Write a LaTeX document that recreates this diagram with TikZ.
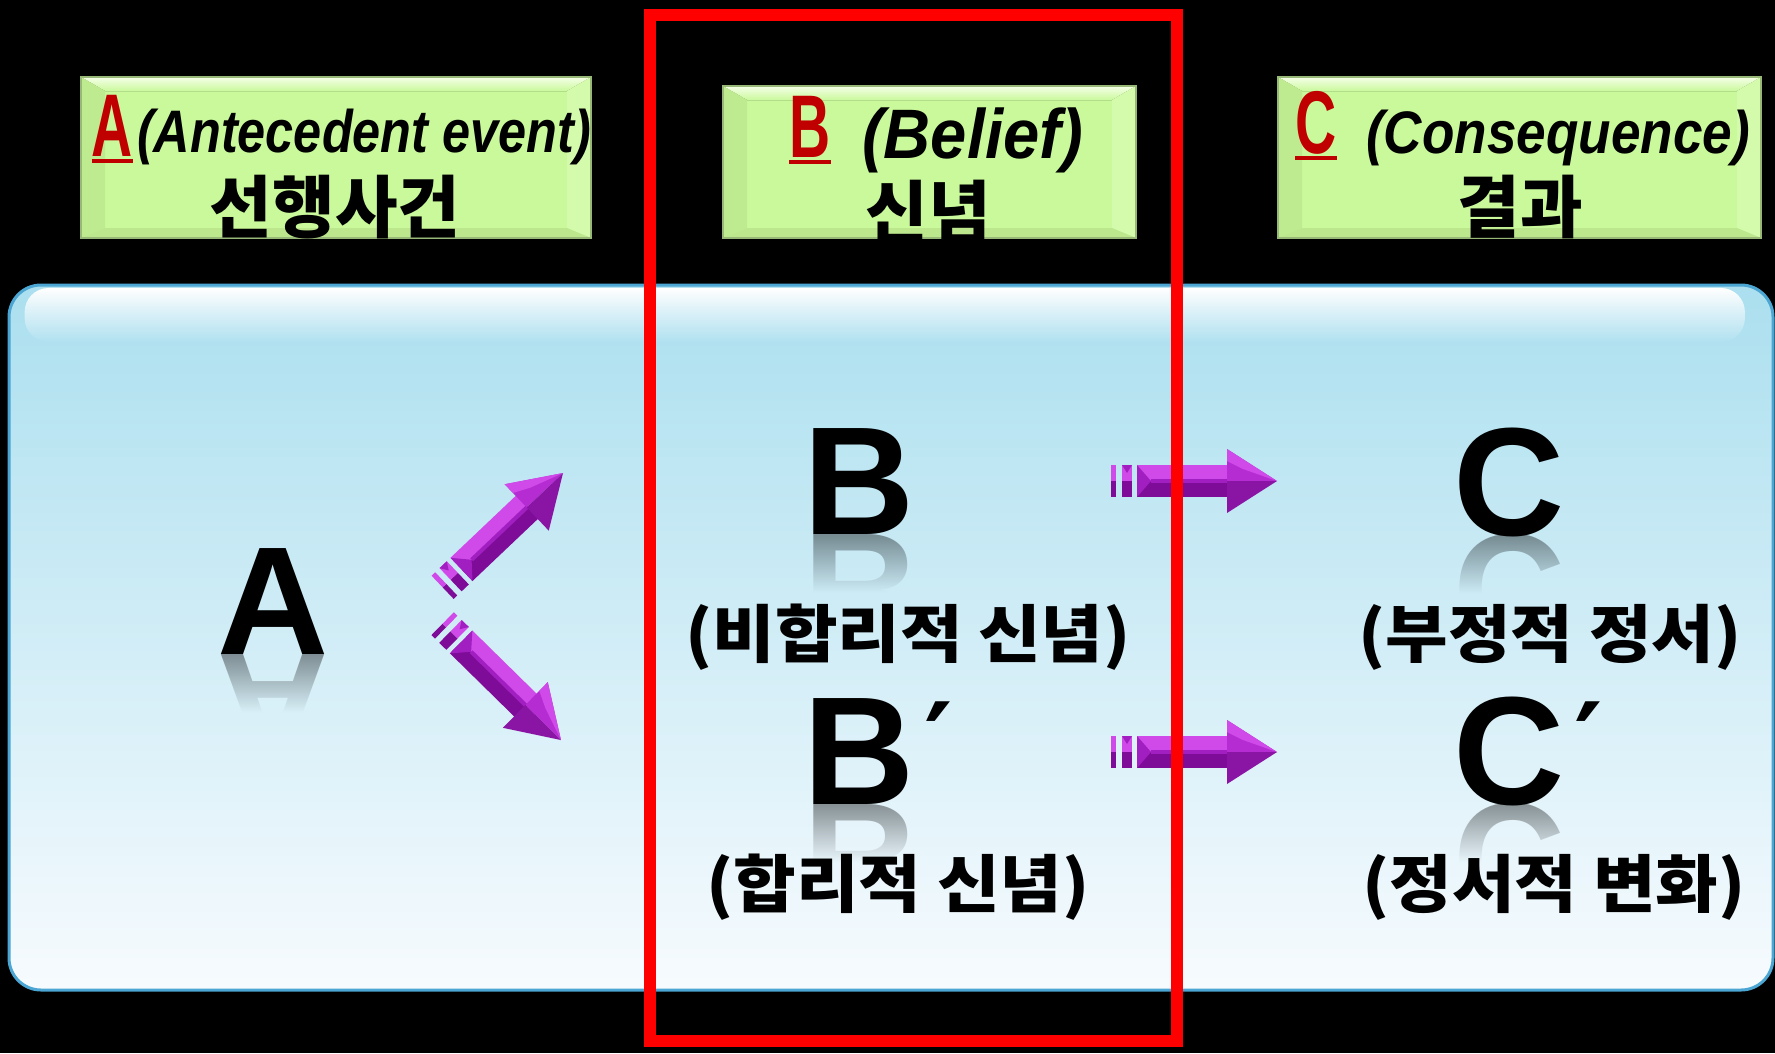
\documentclass[tikz,border=0pt]{standalone}
\usepackage{fontspec}
\usepackage{graphicx}
\usetikzlibrary{fadings}
\newfontfamily\kr{Noto Sans CJK KR}
\newfontfamily\lib{Liberation Sans}
\newfontfamily\libcond{Liberation Sans}[FakeStretch=0.64]
\newfontfamily\djv{DejaVu Sans}
\definecolor{hdrgreen}{HTML}{C9F99B}
\definecolor{hdrtop}{HTML}{F6FFE8}
\definecolor{hdrleft}{HTML}{BFEB90}
\definecolor{hdrright}{HTML}{D3FBAB}
\definecolor{hdrbottom}{HTML}{BCE78D}
\definecolor{hdredge}{HTML}{98B878}
\definecolor{hdrred}{HTML}{C00000}
\definecolor{panelTop}{HTML}{ABDFEF}
\definecolor{panelBot}{HTML}{F7FBFE}
\definecolor{panelEdge}{HTML}{4BA6D3}
\definecolor{arrLight}{HTML}{CF4AE8}
\definecolor{arrMid}{HTML}{A11FC0}
\definecolor{arrDark}{HTML}{7E0C98}
\definecolor{arrHeadUp}{HTML}{B52DD2}
\definecolor{arrHeadDn}{HTML}{8A15A5}
\definecolor{redframe}{HTML}{FF0000}
\tikzfading[name=fadedown, top color=transparent!0, bottom color=transparent!100]
\tikzfading[name=fadeup, top color=transparent!100, bottom color=transparent!0]

\newcommand\hdrbox[4]{%
  \fill[hdrgreen] (#1,#2) rectangle (#3,#4);
  \fill[top color=hdrtop, bottom color=hdrgreen] (#1,#2) -- (#3,#2) -- (#3-24,#2+14) -- (#1+24,#2+14) -- cycle;
  \fill[hdrleft] (#1,#2) -- (#1+24,#2+14) -- (#1+24,#4-10) -- (#1,#4) -- cycle;
  \fill[hdrright] (#3,#2) -- (#3-24,#2+14) -- (#3-24,#4-10) -- (#3,#4) -- cycle;
  \fill[hdrbottom] (#1,#4) -- (#1+24,#4-10) -- (#3-24,#4-10) -- (#3,#4) -- cycle;
  \draw[hdredge, line width=1.5] (#1,#2) rectangle (#3,#4);
}

% name, x, baseline, letter
\newcommand\reflectletter[4]{%
  \begin{scope}
    \clip (#2-90,#3) rectangle (#2+90,#3+58);
    \begin{scope}[shift={(#2,#3)}, yscale=-1]
      \node[transform shape, anchor=base, inner sep=0, text opacity=0.4, font=\lib\bfseries\fontsize{154}{154}\selectfont] (#1) at (0,0) {#4};
    \end{scope}
  \end{scope}
  \pgfmathsetmacro\rta{(#3-285)/7.05}%
  \pgfmathsetmacro\rtb{(#3+58-285)/7.05}%
  \shade[top color=panelBot!\rta!panelTop, bottom color=panelBot!\rtb!panelTop, path fading=fadeup] (#2-91,#3) rectangle (#2+91,#3+58);
}

\newcommand\primemark{\rlap{\kern10pt\raisebox{24pt}{\djv\bfseries\fontsize{108}{108}\selectfont ′}}}

\tikzset{
  bigletter/.style={anchor=base, inner sep=0, font=\lib\bfseries\fontsize{154}{154}\selectfont},
  krlabel/.style={inner sep=0, font=\kr\bfseries\fontsize{63}{63}\selectfont},
  krhead/.style={inner sep=0, font=\kr\bfseries\fontsize{68}{68}\selectfont},
  redletter/.style={anchor=base, inner sep=0, text=hdrred, font=\libcond\bfseries\fontsize{89}{89}\selectfont},
  engtitle/.style={anchor=base west, inner sep=0, font=\lib\bfseries\itshape\fontsize{60}{60}\selectfont},
  bigarrow/.pic={
    \fill[arrDark] (0,0) rectangle (5,16);
    \fill[arrLight] (0,-16) rectangle (5,0);
    \fill[arrDark] (11,0) rectangle (21,16);
    \fill[arrLight] (11,-16) rectangle (21,0);
    \fill[arrMid] (11,-16) -- (16,-8) -- (21,-16) -- cycle;
    \fill[arrDark] (26,0) rectangle (118,16);
    \fill[arrLight] (26,-16) rectangle (118,0);
    \fill[arrMid] (26,-16) -- (40,0) -- (26,16) -- cycle;
    \fill[arrMid] (40,-2) rectangle (118,2);
    \fill[arrHeadUp] (116,-32) -- (166,0) -- (116,0) -- cycle;
    \fill[arrHeadDn] (116,32) -- (166,0) -- (116,0) -- cycle;
    \fill[arrLight] (116,-32) -- (166,0) -- (132,-12) -- (116,-20) -- cycle;
  }
}

\begin{document}
\begin{tikzpicture}[x=1pt, y=-1pt]
\useasboundingbox (0,0) rectangle (1775,1053);
\fill[black] (0,0) rectangle (1775,1053);

% blue panel
\shade[top color=panelTop, bottom color=panelBot, rounded corners=32] (9,285) rectangle (1773,990);
\fill[white, path fading=fadedown, rounded corners=24] (27,288) rectangle (1752,342);
\draw[panelEdge, line width=3, rounded corners=32] (9,285) rectangle (1773,990);

% header boxes
\hdrbox{81}{77}{591}{238}
\hdrbox{723}{86}{1136}{238}
\hdrbox{1278}{77}{1761}{238}

% header texts
\node[redletter] (rA) at (112.5,156) {A};
\draw[hdrred, line width=4] ([yshift=-5pt]rA.base west) -- ([yshift=-5pt]rA.base east);
\node[engtitle] (tA) at (137,152) {\scalebox{0.84}[1]{(Antecedent event)}};
\node[krhead] (kA) at (335,207) {선행사건};

\node[redletter] (rB) at (810,157) {B};
\draw[hdrred, line width=4] ([yshift=-5pt]rB.base west) -- ([yshift=-5pt]rB.base east);
\node[engtitle, font=\lib\bfseries\itshape\fontsize{70}{70}\selectfont] (tB) at (862,158) {\scalebox{0.93}[1]{(Belief)}};
\node[krhead] (kB) at (928,212) {신념};

\node[redletter] (rC) at (1316,153) {C};
\draw[hdrred, line width=4] ([yshift=-5pt]rC.base west) -- ([yshift=-5pt]rC.base east);
\node[engtitle] (tC) at (1366,153) {\scalebox{0.885}[1]{(Consequence)}};
\node[krhead] (kC) at (1520,207) {결과};

% reflections
\reflectletter{rfA}{273}{654}{A}
\reflectletter{rfB}{859}{534}{B}
\reflectletter{rfC}{1509}{535}{C}
\reflectletter{rfBp}{859}{804}{B}
\reflectletter{rfCp}{1509}{804}{C}

% big letters
\node[bigletter] (A) at (273,654) {A};
\node[bigletter] (B) at (859,534) {B};
\node[bigletter] (C) at (1509,535) {C};
\node[bigletter] (Bp) at (859,804) {B\primemark};
\node[bigletter] (Cp) at (1509,804) {C\primemark};

% labels
\node[krlabel] (lB) at (908,637) {\scalebox{1.08}[1]{(비합리적 신념)}};
\node[krlabel] (lC) at (1550,637) {\scalebox{1.08}[1]{(부정적 정서)}};
\node[krlabel] (lBp) at (898,887) {\scalebox{1.08}[1]{(합리적 신념)}};
\node[krlabel] (lCp) at (1554,887) {\scalebox{1.08}[1]{(정서적 변화)}};

% arrows
\coordinate (upTail) at (442.6,587.3);
\coordinate (dnTail) at (442.6,623.7);
\coordinate (h1Tail) at (1111,481);
\coordinate (h2Tail) at (1111,752);
\pic[rotate=43.5] at (upTail) {bigarrow};
\pic[rotate=-44.5] at (dnTail) {bigarrow};
\pic at (h1Tail) {bigarrow};
\pic at (h2Tail) {bigarrow};

% red frame
\draw[redframe, line width=12.5] (650,15) rectangle (1177,1041);
\end{tikzpicture}
\end{document}
